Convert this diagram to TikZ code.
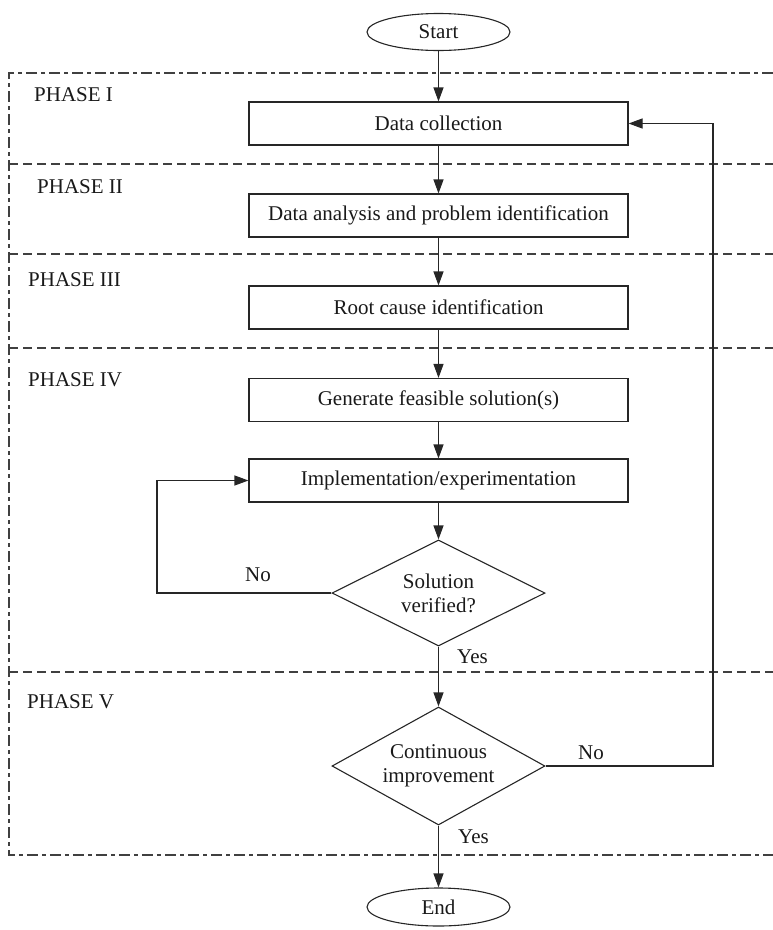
\documentclass[tikz,border=0pt]{standalone}
\usepackage{fontspec}
\setmainfont{Liberation Serif}
\usetikzlibrary{shapes.geometric,arrows.meta}
\begin{document}
\begin{tikzpicture}[x=1pt,y=-1pt,
  every node/.style={font=\fontsize{21}{24}\selectfont, text=black!90},
  procbox/.style={draw=black!85, line width=1.1pt, rectangle, minimum width=379pt, minimum height=43pt, inner sep=0pt},
  term/.style={draw=black!85, line width=1.1pt, ellipse, minimum width=143pt, minimum height=37pt, inner sep=0pt},
  decide/.style={draw=black!85, line width=1.1pt, diamond, aspect=2, inner sep=0pt, align=center},
  flow/.style={draw=black!85, line width=1.1pt, -{Triangle[length=14pt,width=10pt]}},
  sep/.style={draw=black!75, line width=1.1pt, dash pattern=on 9pt off 5pt},
  frame/.style={draw=black!75, line width=1.1pt, dash pattern=on 11pt off 4pt on 4pt off 4pt},
  phase/.style={anchor=base west, inner sep=0pt},
  lbl/.style={anchor=base west, inner sep=0pt}]
\useasboundingbox (0,0) rectangle (773,930);

% frame and phase separators
\coordinate (ftr) at (773,73);
\coordinate (ftl) at (9,73);
\coordinate (fbl) at (9,855);
\coordinate (fbr) at (773,855);
\draw[frame] (ftr) -- (ftl) -- (fbl) -- (fbr);
\coordinate (s1a) at (9,164);  \coordinate (s1b) at (773,164);
\coordinate (s2a) at (9,254);  \coordinate (s2b) at (773,254);
\coordinate (s3a) at (9,348);  \coordinate (s3b) at (773,348);
\coordinate (s4a) at (9,672);  \coordinate (s4b) at (773,672);
\draw[sep] (s1a) -- (s1b);
\draw[sep] (s2a) -- (s2b);
\draw[sep] (s3a) -- (s3b);
\draw[sep] (s4a) -- (s4b);

% phase labels
\node[phase] (p1) at (34,101) {PHASE I};
\node[phase] (p2) at (37,193) {PHASE II};
\node[phase] (p3) at (28,286) {PHASE III};
\node[phase] (p4) at (28,386) {PHASE IV};
\node[phase] (p5) at (27,708) {PHASE V};

% nodes
\node[term] (start) at (438.5,32) {Start};
\node[procbox] (b1) at (438.5,123.5) {Data collection};
\node[procbox] (b2) at (438.5,215.5) {Data analysis and problem identification};
\node[procbox] (b3) at (438.5,307.5) {Root cause identification};
\node[procbox] (b4) at (438.5,400) {Generate feasible solution(s)};
\node[procbox] (b5) at (438.5,480.5) {Implementation/experimentation};
\node[decide, minimum width=213pt, minimum height=106pt] (d1) at (438.5,593) {Solution\\verified?};
\node[decide, minimum width=213pt, minimum height=118pt] (d2) at (438.5,766) {Continuous\\improvement};
\node[term, minimum height=38pt] (end) at (438.5,907) {End};

% connectors
\draw[flow] (start) -- (b1);
\draw[flow] (b1) -- (b2);
\draw[flow] (b2) -- (b3);
\draw[flow] (b3) -- (b4);
\draw[flow] (b4) -- (b5);
\draw[flow] (b5) -- (d1);
\draw[flow] (d1) -- (d2);
\draw[flow] (d2) -- (end);
\coordinate (l1) at (157,593);
\draw[flow] (d1.west) -- (l1) |- (b5.west);
\coordinate (r1) at (713,766);
\draw[flow] (d2.east) -- (r1) |- (b1.east);

% labels
\node[lbl] (no1) at (245,581) {No};
\node[lbl] (no2) at (578,759) {No};
\node[lbl] (yes1) at (457,663) {Yes};
\node[lbl] (yes2) at (458,843) {Yes};
\end{tikzpicture}
\end{document}
